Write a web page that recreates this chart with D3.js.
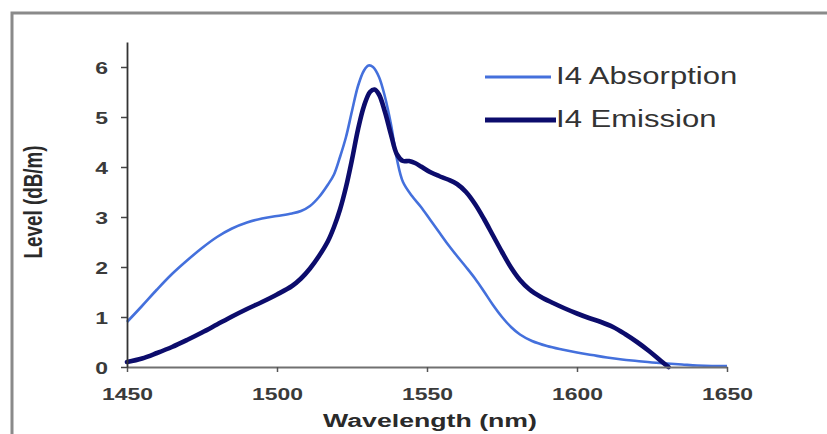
<!DOCTYPE html>
<html>
<head>
<meta charset="utf-8">
<script src="https://cdn.jsdelivr.net/npm/d3@7"></script>
<style>
  html, body { margin: 0; padding: 0; background: #fff; }
  svg { display: block; }
  text { font-family: "Liberation Sans", Arial, sans-serif; }
</style>
</head>
<body>
<svg id="chart" width="827" height="434"></svg>
<script>
// Wavelength grid (nm) and measured levels (dB/m)
const absWavelength = [1450,1455,1460,1465,1470,1475,1480,1485,1490,1495,1500,1505,1508,1511,1514,1517,1519,1521,1523,1525,1527,1529,1530.5,1532,1534,1536,1538,1540,1542,1545,1548,1551,1554,1557,1560,1563,1566,1569,1572,1575,1578,1581,1585,1590,1595,1600,1605,1610,1615,1620,1625,1630,1635,1640,1645,1650];
const absLevel      = [0.90,1.22,1.55,1.86,2.13,2.38,2.60,2.77,2.89,2.97,3.02,3.07,3.12,3.22,3.40,3.65,3.85,4.20,4.60,5.12,5.62,5.93,6.03,6.00,5.80,5.40,4.85,4.15,3.70,3.42,3.20,2.95,2.70,2.45,2.22,2.00,1.77,1.51,1.24,1.00,0.80,0.65,0.52,0.42,0.35,0.29,0.24,0.19,0.15,0.12,0.09,0.07,0.05,0.03,0.02,0.02];

const emWavelength = [1450,1455,1460,1465,1470,1475,1480,1485,1490,1495,1500,1505,1508,1511,1514,1517,1519,1521,1523,1525,1527,1529,1531,1532.5,1534,1536,1538,1540,1542,1544,1546,1548,1551,1554,1557,1560,1563,1566,1569,1572,1575,1578,1581,1584,1588,1592,1596,1600,1604,1608,1612,1616,1620,1624,1628,1630.5];
const emLevel      = [0.10,0.17,0.28,0.40,0.54,0.69,0.85,1.01,1.16,1.30,1.45,1.62,1.77,1.97,2.22,2.52,2.80,3.15,3.60,4.15,4.75,5.22,5.50,5.55,5.45,5.10,4.65,4.25,4.12,4.12,4.08,4.01,3.90,3.82,3.75,3.66,3.50,3.26,2.96,2.63,2.30,1.99,1.74,1.56,1.40,1.28,1.17,1.07,0.98,0.90,0.80,0.66,0.50,0.32,0.12,0.0];

const xTicks = [1450, 1500, 1550, 1600, 1650];
const yTicks = [0, 1, 2, 3, 4, 5, 6];
const seriesNames = ["I4 Absorption", "I4 Emission"];

const absColor = "#4470dc";
const emColor = "#0c0c6c";
const stretch = 1.35;   // horizontal widening applied to all lettering

const svg = d3.select("#chart");

// Outer frame
svg.append("rect")
  .attr("x", 12).attr("y", 13)
  .attr("width", 900).attr("height", 500)
  .attr("fill", "#fff")
  .attr("stroke", "#8a8a8a")
  .attr("stroke-width", 3);

const x = d3.scaleLinear().domain([1450, 1650]).range([127, 727]);
const y = d3.scaleLinear().domain([0, 6.5]).range([367, 42]);

function widen(sel, factor) {
  sel.each(function () {
    const w = this.getComputedTextLength();
    d3.select(this).attr("textLength", w * factor).attr("lengthAdjust", "spacingAndGlyphs");
  });
}

// Curves
const line = d3.line().x(d => x(d[0])).y(d => y(d[1])).curve(d3.curveCatmullRom.alpha(0.5));
const absData = absWavelength.map((w, i) => [w, absLevel[i]]);
const emData = emWavelength.map((w, i) => [w, emLevel[i]]);

svg.append("path").datum(absData)
  .attr("d", line).attr("fill", "none")
  .attr("stroke", absColor).attr("stroke-width", 2.6)
  .attr("stroke-linejoin", "round");

svg.append("path").datum(emData)
  .attr("d", line).attr("fill", "none")
  .attr("stroke", emColor).attr("stroke-width", 4.6)
  .attr("stroke-linejoin", "round").attr("stroke-linecap", "round");

// X axis
const gx = svg.append("g").attr("transform", `translate(0,${y(0)})`)
  .call(d3.axisBottom(x).tickValues(xTicks).tickSize(5).tickSizeOuter(0).tickFormat(d3.format("d")));
gx.select(".domain").attr("stroke", "#707070").attr("stroke-width", 2.2);
gx.selectAll(".tick line").attr("stroke", "#555").attr("stroke-width", 1.5);
gx.selectAll(".tick text")
  .attr("y", 33).attr("dy", 0)
  .attr("fill", "#3a3a3a")
  .style("font-size", "17px").style("font-weight", "bold")
  .call(widen, stretch);

// Y axis
const gy = svg.append("g").attr("transform", `translate(${x(1450)},0)`)
  .call(d3.axisLeft(y).tickValues(yTicks).tickSize(6).tickSizeOuter(0).tickFormat(d3.format("d")));
gy.select(".domain").attr("stroke", "#333").attr("stroke-width", 1.8);
gy.selectAll(".tick line").attr("stroke", "#444").attr("stroke-width", 1.5);
gy.selectAll(".tick text")
  .attr("x", -19).attr("dy", "0.36em")
  .attr("fill", "#3a3a3a")
  .style("font-size", "17px").style("font-weight", "bold")
  .call(widen, stretch);

// Axis titles
svg.append("text")
  .attr("x", 430).attr("y", 427)
  .attr("text-anchor", "middle")
  .attr("fill", "#2a2a2a")
  .style("font-size", "18px").style("font-weight", "bold")
  .attr("textLength", 214).attr("lengthAdjust", "spacingAndGlyphs")
  .text("Wavelength (nm)");

svg.append("g")
  .attr("transform", `translate(42,202) scale(${stretch},1) rotate(-90)`)
  .append("text")
  .attr("text-anchor", "middle")
  .attr("fill", "#2a2a2a")
  .style("font-size", "18.5px").style("font-weight", "bold")
  .attr("textLength", 113).attr("lengthAdjust", "spacingAndGlyphs")
  .text("Level (dB/m)");

// Legend
const legend = [
  { name: seriesNames[0], color: absColor, width: 3, ly: 77, ty: 84, x2: 551 },
  { name: seriesNames[1], color: emColor, width: 5, ly: 120, ty: 127, x2: 556 }
];
const lg = svg.append("g");
legend.forEach(d => {
  lg.append("line")
    .attr("x1", 485).attr("x2", d.x2)
    .attr("y1", d.ly).attr("y2", d.ly)
    .attr("stroke", d.color).attr("stroke-width", d.width);
  lg.append("text")
    .attr("x", 556).attr("y", d.ty)
    .attr("fill", "#333")
    .style("font-size", "23px")
    .text(d.name)
    .call(widen, stretch);
});
</script>
</body>
</html>
